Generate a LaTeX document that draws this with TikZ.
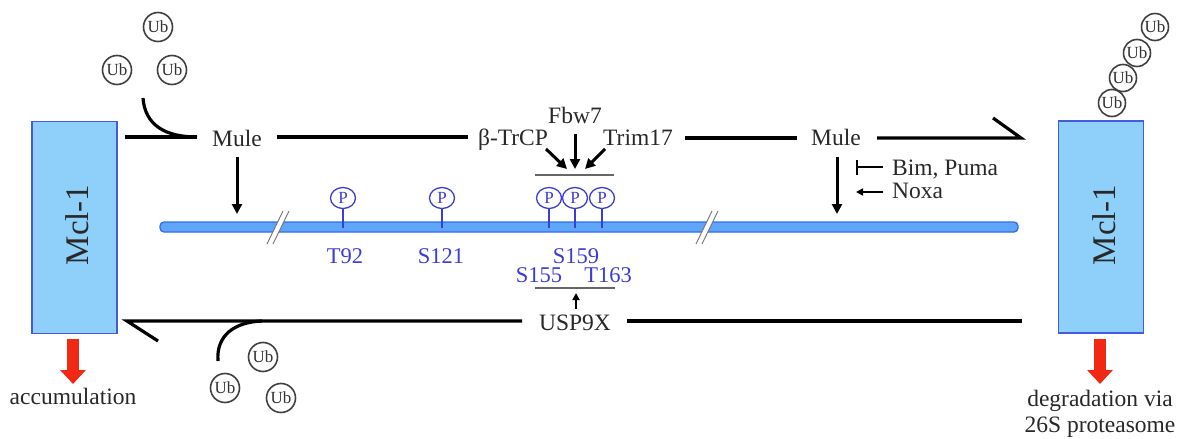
\documentclass[tikz,border=0pt]{standalone}
\usepackage{fontspec}
\setmainfont{Liberation Serif}
\usetikzlibrary{arrows.meta,shapes.geometric}
\definecolor{boxfill}{RGB}{142,208,250}
\definecolor{boxdraw}{RGB}{70,90,220}
\definecolor{barfill}{RGB}{95,165,250}
\definecolor{bardraw}{RGB}{50,110,235}
\definecolor{pblue}{RGB}{60,60,215}
\definecolor{redarr}{RGB}{240,40,20}
\definecolor{txt}{RGB}{40,40,40}
\tikzset{
  lab/.style={inner sep=0pt, anchor=base, text=txt, font=\fontsize{23.5}{23.5}\selectfont},
  blab/.style={inner sep=0pt, anchor=base, text=pblue, font=\fontsize{22.5}{22.5}\selectfont},
  ub/.style={circle, draw=black!75, line width=1.6pt, inner sep=0pt, minimum size=29pt, fill=white,
     text=black!80, font=\fontsize{17}{17}\selectfont},
  pc/.style={ellipse, draw=pblue, line width=1.3pt, inner sep=0pt, minimum width=25pt, minimum height=21pt,
     fill=white, text=pblue, font=\fontsize{17}{17}\selectfont},
  mcl/.style={draw=boxdraw, fill=boxfill, line width=1.3pt, minimum width=85pt, minimum height=212pt,
     inner sep=0pt},
  thk/.style={line width=3.2pt, black},
  darr/.style={line width=3pt, black, -{Triangle[length=10pt,width=10pt]}},
  sarr/.style={line width=2pt, black, -{Triangle[length=7pt,width=7pt]}},
  stem/.style={line width=2.6pt, pblue},
  gline/.style={line width=2pt, black!60},
  redarrow/.style={redarr, line width=12pt, -{Triangle[length=14pt,width=25pt]}},
}
\begin{document}
\begin{tikzpicture}[x=1pt,y=-1pt]
\useasboundingbox (0,0) rectangle (1179,439);

% Mcl-1 boxes
\node[mcl] (mclL) at (74.5,227.5) {};
\node[rotate=90, text=txt, font=\fontsize{33}{33}\selectfont] (mclLt) at (77,225) {Mcl-1};
\node[mcl] (mclR) at (1101,227) {};
\node[rotate=90, text=txt, font=\fontsize{33}{33}\selectfont] (mclRt) at (1104,225) {Mcl-1};

% protein bar
\node[draw=bardraw, fill=barfill, line width=1.3pt, rounded corners=4pt, minimum width=858pt,
      minimum height=10pt, inner sep=0pt] (bar) at (589,227) {};
% break marks
\foreach \bx/\bn in {278/brA, 707/brB}{
  \fill[white] (\bx-11,244) -- (\bx-5,244) -- (\bx+11,211) -- (\bx+5,211) -- cycle;
  \draw[black!55, line width=0.9pt] (\bx-11,244) -- (\bx+5,211);
  \draw[black!55, line width=0.9pt] (\bx-5,244) -- (\bx+11,211);
}

% phospho sites
\foreach \px/\pn in {343/p1, 442/p2, 549/p3, 575/p4, 602/p5}{
  \coordinate (\pn b) at (\px,228);
  \node[pc] (\pn) at (\px,198) {P};
  \draw[stem] (\pn.south) -- (\pn b);
}
\node[blab] (t92) at (345,263) {T92};
\node[blab] (s121) at (441,263) {S121};
\node[blab] (s159) at (576,263) {S159};
\node[blab] (s155) at (539,282) {S155};
\node[blab] (t163) at (608,282) {T163};

% labels
\node[lab] (muleL) at (237,146) {Mule};
\node[lab] (muleR) at (836,145) {Mule};
\node[lab] (btrcp) at (513,145) {β-TrCP};
\node[lab] (fbw7) at (575,123) {Fbw7};
\node[lab] (trim) at (638,145) {Trim17};
\node[lab, anchor=base west] (bim) at (892,175) {Bim, Puma};
\node[lab, anchor=base west] (noxa) at (892,198) {Noxa};
\node[lab] (usp) at (575,330) {USP9X};
\node[lab] (accu) at (73,404) {accumulation};
\node[lab] (degr) at (1100,406) {degradation via};
\node[lab] (prot) at (1100,432) {26S proteasome};

% top line
\coordinate (t0) at (125,137);
\coordinate (t1) at (197,137);
\coordinate (t2) at (277,137);
\coordinate (t3) at (468,137);
\coordinate (t4) at (685,138);
\coordinate (t5) at (797,138);
\coordinate (t6) at (877,138);
\coordinate (t7) at (1021,138);
\coordinate (t8) at (993,118);
\draw[thk] (t0) -- (t1);
\draw[thk] (t2) -- (t3);
\draw[thk] (t4) -- (t5);
\draw[thk, line join=miter] (t6) -- (t7) -- (t8);

% Ub top-left
\node[ub] (ub1) at (158,27) {Ub};
\node[ub] (ub2) at (117,70) {Ub};
\node[ub] (ub3) at (172,70) {Ub};
\coordinate (c0) at (143,98);
\draw[thk] (c0) .. controls (145,125) and (165,137) .. (t1);

% Mule down arrows
\coordinate (mlA) at (237,157); \coordinate (mlB) at (237,214);
\coordinate (mrA) at (837,157); \coordinate (mrB) at (837,214);
\draw[darr] (mlA) -- (mlB);
\draw[darr] (mrA) -- (mrB);

% Bim/Puma inhibition, Noxa activation
\coordinate (bimA) at (883,167); \coordinate (bimB) at (856,167);
\draw[line width=2pt, -{Bar[width=15pt]}] (bimA) -- (bimB);
\coordinate (noxA) at (883,192); \coordinate (noxB) at (856,192);
\draw[sarr] (noxA) -- (noxB);

% E3 ligases converging
\coordinate (g1) at (535,175); \coordinate (g2) at (614,175);
\draw[gline] (g1) -- (g2);
\coordinate (a1s) at (546,149); \coordinate (a1e) at (567,169);
\coordinate (a2s) at (575,134); \coordinate (a2e) at (575,169);
\coordinate (a3s) at (605,149); \coordinate (a3e) at (585,169);
\draw[darr] (a1s) -- (a1e);
\draw[darr] (a2s) -- (a2e);
\draw[darr] (a3s) -- (a3e);

% USP9X
\coordinate (g3) at (535,288); \coordinate (g4) at (615,288);
\draw[gline] (g3) -- (g4);
\coordinate (uA) at (576,309); \coordinate (uB) at (576,293);
\draw[sarr] (uA) -- (uB);

% bottom line
\coordinate (b0) at (158,341);
\coordinate (b1) at (127,321);
\coordinate (b2) at (522,321);
\coordinate (b3) at (627,321);
\coordinate (b4) at (1022,321);
\coordinate (b5) at (262,321);
\draw[thk, line join=miter] (b0) -- (b1) -- (b2);
\draw[thk] (b3) -- (b4);
\coordinate (c1) at (218,361);
\draw[thk] (c1) .. controls (216,335) and (235,322) .. (b5);

% Ub bottom-left
\node[ub] (ub4) at (263,357) {Ub};
\node[ub] (ub5) at (225,388) {Ub};
\node[ub] (ub6) at (281,398) {Ub};

% Ub chain right
\node[ub, minimum size=27pt] (ub7) at (1112,103) {Ub};
\node[ub, minimum size=27pt] (ub8) at (1123,78) {Ub};
\node[ub, minimum size=27pt] (ub9) at (1137,53) {Ub};
\node[ub, minimum size=27pt] (ub10) at (1155,27) {Ub};

% red arrows
\coordinate (rlA) at (73,339); \coordinate (rlB) at (73,384);
\coordinate (rrA) at (1100,339); \coordinate (rrB) at (1100,384);
\draw[redarrow] (rlA) -- (rlB);
\draw[redarrow] (rrA) -- (rrB);
\end{tikzpicture}
\end{document}
